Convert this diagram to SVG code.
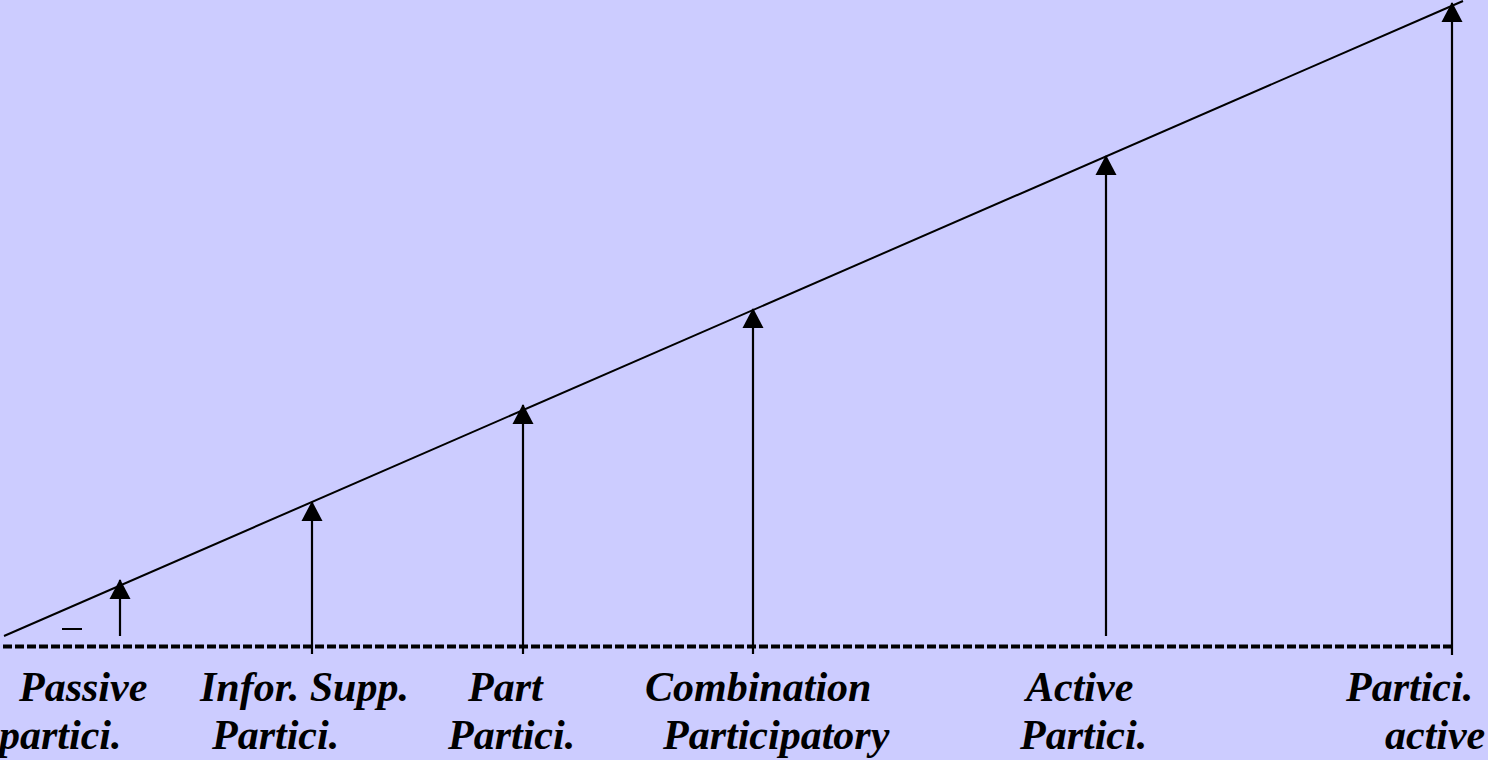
<svg xmlns="http://www.w3.org/2000/svg" width="1488" height="760" viewBox="0 0 1488 760">
<style>
.ln{stroke:#000;stroke-width:2;fill:none}
.ar{stroke:#000;stroke-width:2.2;fill:none;marker-end:url(#head)}
.lb{font-family:"Liberation Serif","Times New Roman",serif;font-weight:bold;font-style:italic;font-size:42px;fill:#000}
</style>
<defs>
<marker id="head" markerUnits="userSpaceOnUse" markerWidth="20" markerHeight="22" viewBox="0 -11 20 22" refX="19" refY="0" orient="auto">
<path d="M0,-10.5 L20,0 L0,10.5 z" fill="#000"/>
</marker>
</defs>
<rect width="1488" height="760" fill="#CCCCFF"/>
<g id="connectors">
<line class="ln" x1="4" y1="636" x2="1463" y2="1"/>
<line x1="3" y1="646.5" x2="1452" y2="646.5" stroke="#000" stroke-width="4" stroke-dasharray="9 3"/>
<line class="ln" x1="62" y1="629" x2="82" y2="629"/>
<line class="ar" x1="120" y1="636" x2="120" y2="580"/>
<line class="ar" x1="312" y1="654" x2="312" y2="502"/>
<line class="ar" x1="523" y1="654" x2="523" y2="405"/>
<line class="ar" x1="753" y1="654" x2="753" y2="309"/>
<line class="ar" x1="1106" y1="636" x2="1106" y2="156"/>
<line class="ar" x1="1452" y1="655" x2="1452" y2="3"/>
</g>
<g id="n1"><text class="lb" x="19" y="701">Passive</text><text class="lb" x="-1" y="749">partici.</text></g>
<g id="n2"><text class="lb" x="200" y="701">Infor. Supp.</text><text class="lb" x="212" y="749">Partici.</text></g>
<g id="n3"><text class="lb" x="468" y="701">Part</text><text class="lb" x="448" y="749">Partici.</text></g>
<g id="n4"><text class="lb" x="645" y="701">Combination</text><text class="lb" x="663" y="749">Participatory</text></g>
<g id="n5"><text class="lb" x="1026" y="701">Active</text><text class="lb" x="1020" y="749">Partici.</text></g>
<g id="n6"><text class="lb" x="1346" y="701">Partici.</text><text class="lb" x="1385" y="749">active</text></g>
</svg>
